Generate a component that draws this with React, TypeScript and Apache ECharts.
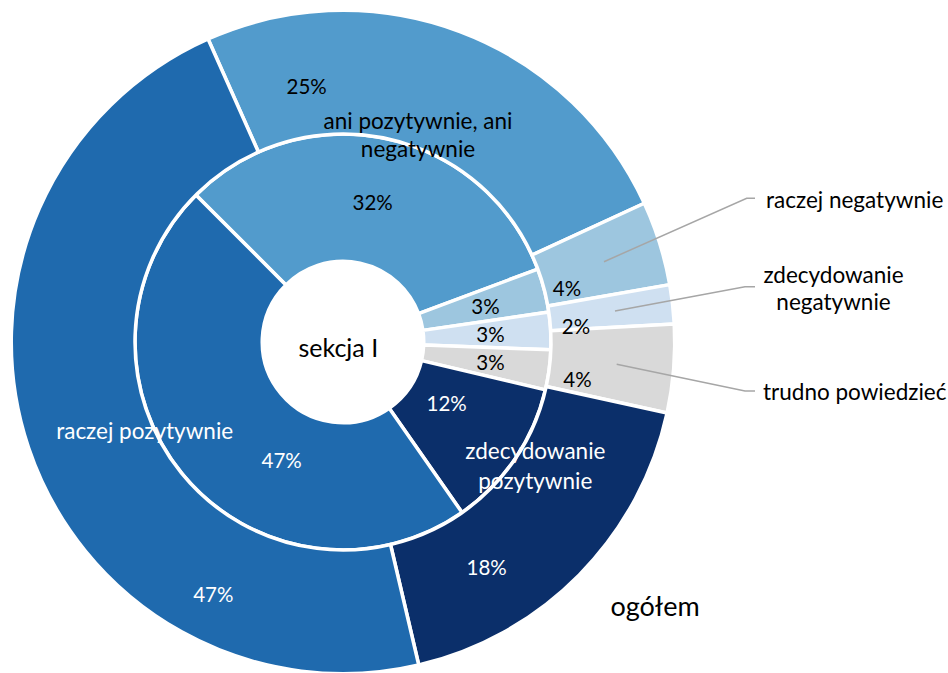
import React, { useEffect, useRef } from "react";
import * as echarts from "echarts";

// ---- data ----
const categories = [
  "ani pozytywnie, ani negatywnie",
  "raczej negatywnie",
  "zdecydowanie negatywnie",
  "trudno powiedzieć",
  "zdecydowanie pozytywnie",
  "raczej pozytywnie",
];
// inner ring: sekcja I
const sekcjaValues = [31.8, 3.4, 2.9, 3.1, 11.6, 47.2];
// outer ring: ogółem
const ogolemValues = [24.8, 4.1, 1.9, 4.3, 17.9, 47.0];
const innerTitle = "sekcja I";
const outerTitle = "ogółem";

// ---- styling / layout ----
const colors = ["#529bcc", "#9dc6df", "#cfe0f1", "#d9d9d9", "#0b2f6a", "#1f6aae"];
const labelColors = ["#000", "#000", "#000", "#000", "#fff", "#fff"];
const FONT = "Lato, Carlito, Calibri, sans-serif";
const CX = 343;
const CY = 342;

const innerLabelPos = [
  [372.7, 201.7],
  [485.5, 306],
  [490.5, 334.3],
  [490.5, 361.7],
  [446.7, 403.3],
  [281.7, 460],
];
const outerLabelPos = [
  [306.7, 86],
  [567, 288],
  [576, 325.7],
  [577.5, 379.3],
  [486.7, 566.7],
  [213.3, 594],
];

function breakLast(s: string) {
  const i = s.lastIndexOf(" ");
  return s.slice(0, i) + "\n" + s.slice(i + 1);
}

export default function App() {
  const ref = useRef<HTMLDivElement>(null);
  useEffect(() => {
    document.body.style.margin = "0";
    const chart = echarts.init(ref.current!, null, { renderer: "svg" });

    const mkSeries = (name: string, values: number[], radius: number[], start: number, pos: number[][]) => ({
      type: "pie",
      name,
      center: [CX, CY],
      radius,
      startAngle: start,
      clockwise: true,
      avoidLabelOverlap: false,
      itemStyle: { borderColor: "#fff", borderWidth: 3.5 },
      label: {
        show: true,
        position: "inside",
        fontFamily: FONT,
        fontSize: 20.5,
        formatter: (p: any) => Math.round(p.value) + "%",
      },
      labelLine: { show: false },
      labelLayout: (p: any) => ({
        x: pos[p.dataIndex][0],
        y: pos[p.dataIndex][1],
        align: "center",
        verticalAlign: "middle",
      }),
      emphasis: { disabled: true },
      data: values.map((v, i) => ({
        name: categories[i],
        value: v,
        itemStyle: { color: colors[i] },
        label: { color: labelColors[i] },
      })),
    });

    const lineStyle = { stroke: "#a6a6a6", lineWidth: 1.5, fill: null };
    const txt = (text: string, x: number, y: number, opts: any = {}) => ({
      type: "text",
      x,
      y,
      z: 100,
      style: {
        text,
        fontFamily: FONT,
        fontSize: 22.5,
        fill: "#000",
        align: "center",
        verticalAlign: "middle",
        lineHeight: 28,
        ...opts,
      },
    });

    chart.setOption({
      animation: false,
      series: [
        mkSeries(innerTitle, sekcjaValues, [80.75, 208], 135, innerLabelPos),
        mkSeries(outerTitle, ogolemValues, [208, 331.75], 114, outerLabelPos),
      ],
      graphic: [
        { type: "polyline", z: 90, shape: { points: [[604, 261.7], [746.7, 198.3], [755, 198.3]] }, style: lineStyle },
        { type: "polyline", z: 90, shape: { points: [[615, 311], [745, 286.7], [755, 286.7]] }, style: lineStyle },
        { type: "polyline", z: 90, shape: { points: [[616.7, 364.3], [745, 391], [755, 391]] }, style: lineStyle },
        txt(breakLast(categories[0]), 418, 134),
        txt(categories[1], 766, 199.3, { align: "left" }),
        txt(breakLast(categories[2]), 833.5, 288.3, { lineHeight: 27 }),
        txt(categories[3], 763, 391.7, { align: "left" }),
        txt(breakLast(categories[4]), 535.3, 465.7, { fill: "#fff", lineHeight: 30 }),
        txt(categories[5], 144.7, 430.7, { fill: "#fff" }),
        txt(innerTitle, 338.3, 346.7, { fontSize: 25 }),
        txt(outerTitle, 655, 605, { fontSize: 27 }),
      ],
    });
    return () => chart.dispose();
  }, []);
  return (
    <div
      ref={ref}
      style={{ position: "fixed", left: 0, top: 0, width: 948, height: 673, background: "#fff" }}
    />
  );
}
